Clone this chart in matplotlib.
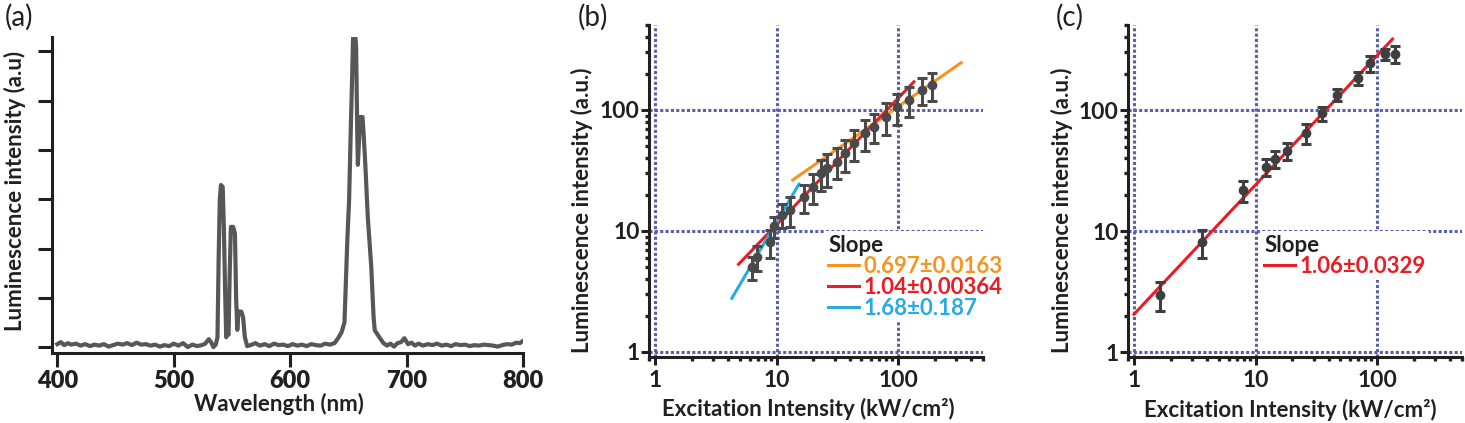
import matplotlib
matplotlib.use("Agg")
import matplotlib.pyplot as plt
from matplotlib.ticker import FixedLocator, NullFormatter, LogLocator, FixedFormatter

plt.rcParams['font.family'] = ['Lato', 'DejaVu Sans']

# ---------------- data ----------------
# (a) spectrum
wavelength = [400, 403, 406, 409, 412, 416, 420, 424, 428, 432, 436, 440, 444, 448, 452, 456,
              460, 464, 468, 472, 476, 480, 484, 488, 492, 496, 500, 504, 508, 512, 516, 520,
              524, 527, 530, 532, 534, 536, 537.5, 538.5, 539.5, 540.5, 542, 543, 544, 545,
              546, 547, 548, 549, 551, 552.5, 553.5, 554.5, 555.5, 558, 559.5, 561, 563,
              566, 570, 574, 578, 582, 586, 590, 594, 598, 602, 606, 610, 614, 618, 622,
              626, 630, 634, 638, 641, 644, 646.5, 648, 649, 650.5, 652, 653, 654, 655,
              655.5, 656.5, 657.5, 658, 659, 660, 662, 663, 664.5, 666.5, 669.5, 671.5,
              672.5, 675, 677, 680, 683, 686, 689, 692, 695, 698, 701, 704, 707, 710, 714,
              718, 722, 726, 730, 734, 738, 742, 746, 750, 754, 758, 762, 766, 770, 774,
              778, 782, 786, 790, 794, 797, 800]
intensity = [0.06, 0.10, 0.04, 0.08, 0.05, 0.07, 0.03, 0.06, 0.02, 0.05, 0.03, 0.06, 0.01, 0.04,
             0.07, 0.05, 0.08, 0.04, 0.09, 0.05, 0.06, 0.03, 0.05, 0.01, 0.04, 0.02, 0.07, 0.03,
             0.08, 0.00, 0.05, 0.02, 0.04, 0.07, 0.16, 0.10, 0.00, 0.05, 0.20, 1.80, 3.00, 3.29,
             3.25, 2.40, 1.20, 0.20, 0.30, 0.25, 1.50, 2.44, 2.44, 2.30, 1.00, 0.35, 0.72, 0.72,
             0.60, 0.20, 0.02, 0.04, 0.08, 0.03, 0.06, 0.02, 0.07, 0.04, 0.05, 0.02, 0.06, 0.03,
             0.05, 0.02, 0.06, 0.04, 0.03, 0.07, 0.05, 0.08, 0.18, 0.30, 0.50, 1.50, 2.20, 3.00,
             4.50, 5.40, 6.40, 5.60, 6.40, 6.10, 4.30, 3.70, 4.20, 4.67, 4.67, 4.30, 3.66, 2.64,
             1.63, 0.60, 0.34, 0.25, 0.18, 0.08, 0.03, 0.07, 0.01, 0.08, 0.10, 0.18, 0.06, 0.09,
             0.03, 0.07, 0.03, 0.06, 0.04, 0.07, 0.03, 0.05, 0.02, 0.06, 0.04, 0.05, 0.02, 0.04,
             0.03, 0.05, 0.04, 0.03, 0.01, 0.04, 0.06, 0.05, 0.09, 0.08, 0.13]
a_xticks = [400, 500, 600, 700, 800]
a_yticks = [0, 1, 2, 3, 4, 5, 6]

# (b) power dependence
b_x = [6.26, 6.9, 8.9, 9.6, 11.1, 12.8, 16.8, 19.9, 23.3, 26.1, 31.4, 36.7, 43.8, 53.0,
       62.9, 78.9, 97.8, 124, 158, 190]
b_y = [5.0, 6.1, 8.1, 10.9, 13.6, 14.9, 19.2, 23.2, 30.0, 33.0, 37.4, 43.9, 53.0, 64.0,
       72.8, 88.0, 105, 121, 146, 161]
b_err = [1.1, 1.4, 2.1, 2.2, 3.0, 4.2, 5.0, 6.5, 8.5, 10.0, 10.7, 13.0, 15.0, 18.5,
         19.5, 26.0, 30.0, 34.0, 37.0, 42.0]
b_fit_orange_x = [13.6, 331]
b_fit_orange_y = [26.4, 246]
b_fit_red_x = [4.87, 135]
b_fit_red_y = [5.31, 171]
b_fit_blue_x = [4.29, 15.3]
b_fit_blue_y = [2.78, 24.4]
b_labels = ["0.697\u00b10.0163", "1.04\u00b10.00364", "1.68\u00b10.187"]

# (c) power dependence
c_x = [1.64, 3.6, 7.94, 12.2, 14.5, 18.1, 26.0, 35.5, 47.1, 69.4, 87.5, 116, 141]
c_y = [2.98, 8.07, 21.8, 34.0, 39.4, 46.1, 64.2, 94.0, 134, 184, 243, 290, 290]
c_err = [0.8, 2.1, 4.3, 5.4, 6.3, 7.4, 12.0, 12.0, 15.0, 24.0, 36.0, 32.0, 46.0]
c_fit_x = [1.0, 134]
c_fit_y = [2.06, 386]
c_labels = ["1.06\u00b10.0329"]

log_ticks = [1, 10, 100]
log_ticklabels = ["1", "10", "100"]

# ---------------- style ----------------
W, H = 1465, 423
INK = '#231f20'
GRID = '#5a5eab'
PT_GRAY = '#4a4a4a'
ORANGE = '#f7941d'
RED = '#ed1c24'
BLUE = '#29abe2'

fig = plt.figure(figsize=(W / 100, H / 100), dpi=100)

def px_axes(l, t, r, b):
    return fig.add_axes([l / W, (H - b) / H, (r - l) / W, (b - t) / H])

# ---------------- panel (a) ----------------
axa = px_axes(51.7, 36.7, 523.3, 353)
axa.plot(wavelength, intensity, color='#575757', lw=3.0, solid_joinstyle='round')
axa.set_xlim(395.2, 800)
axa.set_ylim(-0.12, 6.3)
axa.set_xticks(a_xticks)
axa.set_yticks(a_yticks)
axa.set_yticklabels([])
for s in ['top', 'right']:
    axa.spines[s].set_visible(False)
for s in ['left', 'bottom']:
    axa.spines[s].set_linewidth(2.2)
    axa.spines[s].set_color(INK)
axa.tick_params(axis='both', direction='out', length=10, width=2.2, color=INK)
axa.tick_params(axis='x', pad=2, labelsize=17, labelcolor=INK)
for lab in axa.get_xticklabels():
    lab.set_fontweight('heavy')
axa.set_xlabel('Wavelength (nm)', fontsize=16, fontweight='bold', color=INK, va='center')
axa.xaxis.set_label_coords(0.482, -0.161)
axa.set_ylabel('Luminescence intensity (a.u)', fontsize=16, fontweight='bold', color=INK,
               va='center')
axa.yaxis.set_label_coords(-0.078, 0.511)

# ---------------- log panels ----------------
def style_log(ax):
    ax.set_xscale('log')
    ax.set_yscale('log')
    ax.set_xlim(0.898, 500)
    ax.set_ylim(0.909, 504)
    for s in ['top', 'right']:
        ax.spines[s].set_visible(False)
    for s in ['left', 'bottom']:
        ax.spines[s].set_linewidth(2.2)
        ax.spines[s].set_color(INK)
    for axis in (ax.xaxis, ax.yaxis):
        axis.set_major_locator(FixedLocator(log_ticks))
        axis.set_major_formatter(FixedFormatter(log_ticklabels))
        axis.set_minor_locator(LogLocator(base=10, subs=range(2, 10)))
        axis.set_minor_formatter(NullFormatter())
    ax.tick_params(which='major', direction='out', length=6, width=2.2, color=INK,
                   labelsize=16.5, labelcolor=INK)
    ax.tick_params(which='minor', direction='out', length=3, width=2.4, color=INK)
    ax.tick_params(axis='y', which='major', pad=1)
    ax.tick_params(axis='x', which='major', pad=3)
    for lab in ax.get_xticklabels() + ax.get_yticklabels():
        lab.set_fontweight('bold')
    ax.grid(True, which='major', color=GRID, lw=2.2, linestyle=(0, (1.0, 0.75)))
    ax.set_axisbelow(True)
    ax.set_xlabel('Excitation Intensity (kW/cm\u00b2)', fontsize=16, fontweight='bold',
                  color=INK, va='center')
    ax.set_ylabel('Luminescence intensity (a.u.)', fontsize=16, fontweight='bold',
                  color=INK, va='center')

def add_legend(ax, handles, labels, colors, anchor):
    leg = ax.legend(handles, labels, title='Slope', loc='upper left', bbox_to_anchor=anchor,
                    frameon=True, facecolor='white', edgecolor='none', framealpha=1,
                    fancybox=False, borderpad=0.15, borderaxespad=0, handlelength=1.4,
                    handletextpad=0.2, labelspacing=0.0, alignment='left',
                    prop={'size': 16, 'weight': 'bold'},
                    title_fontproperties={'size': 16, 'weight': 'bold'},
                    labelcolor=colors)
    leg.get_title().set_color(INK)
    leg.set_zorder(5)
    return leg

# ---------------- panel (b) ----------------
axb = px_axes(649.3, 25, 983, 357)
style_log(axb)
lo, = axb.plot(b_fit_orange_x, b_fit_orange_y, color=ORANGE, lw=2.2, zorder=2)
lr, = axb.plot(b_fit_red_x, b_fit_red_y, color=RED, lw=2.2, zorder=2)
lb, = axb.plot(b_fit_blue_x, b_fit_blue_y, color=BLUE, lw=2.2, zorder=2)
axb.errorbar(b_x, b_y, yerr=b_err, fmt='o', color=PT_GRAY, ms=6, elinewidth=2.2,
             capsize=3.6, capthick=2.2, zorder=3)
axb.xaxis.set_label_coords(0.476, -0.157)
axb.yaxis.set_label_coords(-0.202, 0.443)
add_legend(axb, [lo, lr, lb], b_labels, [ORANGE, RED, BLUE],
           ((825 - 649.3) / 333.7, (357 - 231.5) / 332))

# ---------------- panel (c) ----------------
axc = px_axes(1128.3, 25, 1462, 357.3)
style_log(axc)
lc, = axc.plot(c_fit_x, c_fit_y, color=RED, lw=2.2, zorder=2)
axc.errorbar(c_x, c_y, yerr=c_err, fmt='o', color='#3f3f3f', ms=6, elinewidth=2.2,
             capsize=3.6, capthick=2.2, zorder=3)
axc.xaxis.set_label_coords(0.485, -0.157)
axc.yaxis.set_label_coords(-0.2, 0.443)
add_legend(axc, [lc], c_labels, [RED],
           ((1261 - 1128.3) / 333.7, (357.3 - 231.5) / 332.3))

# ---------------- panel letters ----------------
for txt, x in [('(a)', 19), ('(b)', 593), ('(c)', 1070)]:
    fig.text(x / W, 1 - 17 / H, txt, fontsize=20, fontweight='normal', color=INK,
             ha='center', va='center')

fig.savefig('out.png', dpi=100)
